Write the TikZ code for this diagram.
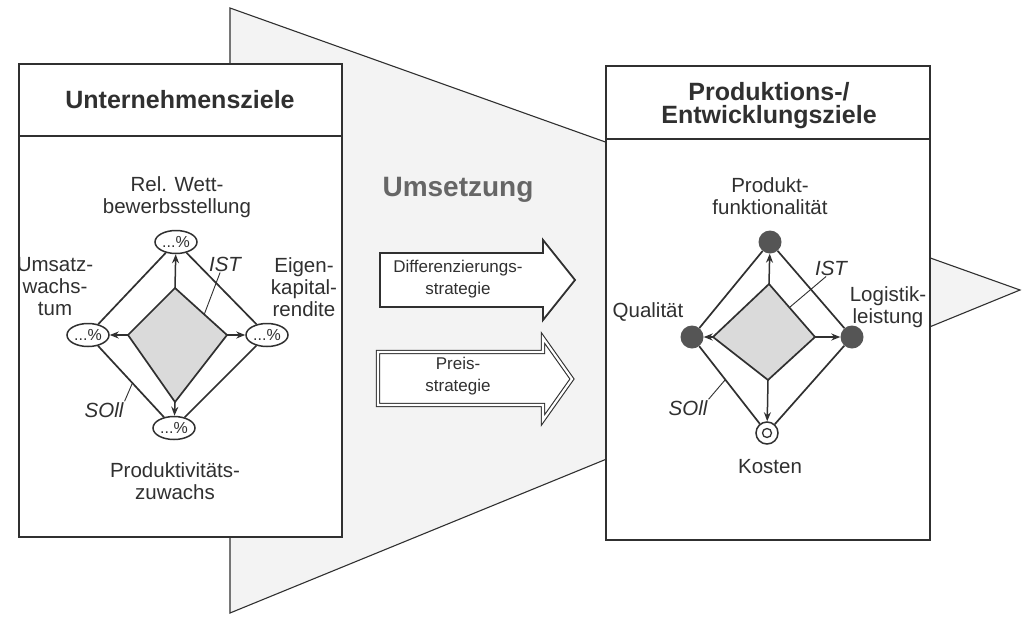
\documentclass[tikz,border=0pt]{standalone}
\usepackage{fontspec}
\setmainfont{Liberation Sans}
\usetikzlibrary{shapes.geometric,arrows.meta}
\definecolor{ink}{HTML}{303030}
\definecolor{softink}{HTML}{666666}
\definecolor{wedgefill}{HTML}{F3F3F3}
\definecolor{istfill}{HTML}{DADADA}
\definecolor{dotfill}{HTML}{555555}
\begin{document}
\begin{tikzpicture}[x=1pt,y=-1pt,
  panel/.style={draw=ink,line width=2pt,fill=white},
  rule/.style={draw=ink,line width=2pt},
  wedge/.style={draw=ink,line width=1.1pt,fill=wedgefill},
  spoke/.style={draw=ink,line width=1.7pt},
  push/.style={draw=ink,line width=1.5pt,-{Stealth[length=9pt,width=7pt]}},
  leader/.style={draw=ink,line width=0.9pt},
  pct/.style={ellipse,draw=ink,line width=1.5pt,fill=white,minimum width=42pt,minimum height=23pt,inner sep=0pt,text=ink,font=\fontsize{16}{16}\selectfont},
  dot/.style={circle,fill=dotfill,minimum size=23pt,inner sep=0pt},
  ring/.style={circle,draw=ink,line width=1.5pt,fill=white,minimum size=22pt,inner sep=0pt},
  hub/.style={circle,draw=ink,line width=1.3pt,minimum size=9pt,inner sep=0pt},
  lbl/.style={text=ink,align=center,font=\fontsize{20.5}{22}\selectfont,inner sep=0pt},
  tag/.style={text=ink,font=\fontsize{20.5}{22}\selectfont\itshape,inner sep=1pt},
  title/.style={text=ink,align=center,font=\fontsize{25}{23}\selectfont\bfseries},
  strat/.style={text=ink,align=center,font=\fontsize{17}{22}\selectfont,inner sep=0pt},
  blockarrow/.style={draw=ink,line width=1.8pt,fill=white},
  doublearrow/.style={draw=ink,line width=1.1pt,double=white,double distance=2.2pt,fill=white},
]
\useasboundingbox (0,0) rectangle (1022,616);

% large wedge pointing right, behind both panels
\draw[wedge] (230,8) -- (1020,290) -- (230,613) -- cycle;

% left panel
\draw[panel] (19,64) rectangle (342,537);
\draw[rule] (19,136) -- (342,136);
\node[title] (ltitle) at (180,100) {Unternehmensziele};

% right panel
\draw[panel] (606,66) rectangle (930,540);
\draw[rule] (606,139) -- (930,139);
\node[title] (rtitle) at (769,106) {Produktions-/\\Entwicklungsziele};

% middle: implementation strategies
\node[text=softink,font=\fontsize{28}{28}\selectfont\bfseries] (umsetzung) at (458,190) {Umsetzung};
\draw[blockarrow] (380,253) -- (543,253) -- (543,240) -- (575,280) -- (543,320) -- (543,307) -- (380,307) -- cycle;
\node[strat] (diff) at (458,279) {Differenzierungs-\\strategie};
\draw[doublearrow] (378,352) -- (543,352) -- (543,338) -- (572,379) -- (543,420) -- (543,405) -- (378,405) -- cycle;
\node[strat] (preis) at (458,376) {Preis-\\strategie};

% ---- left target diamond ----
\node[pct] (lt) at (176,242) {...\%};
\node[pct] (ll) at (88,335) {...\%};
\node[pct] (lr) at (267,335) {...\%};
\node[pct] (lb) at (174,428) {...\%};
\draw[spoke] (lt) -- (ll);
\draw[spoke] (lt) -- (lr);
\draw[spoke] (ll) -- (lb);
\draw[spoke] (lr) -- (lb);
\coordinate (ilt) at (175,288);
\coordinate (ill) at (128,335);
\coordinate (ilr) at (227,335);
\coordinate (ilb) at (175,402);
\draw[spoke,fill=istfill] (ilt) -- (ilr) -- (ilb) -- (ill) -- cycle;
\draw[push] (ilt) -- (lt);
\draw[push] (ill) -- (ll);
\draw[push] (ilr) -- (lr);
\draw[push] (ilb) -- (lb);

\node[lbl] (lttext) at (177,197) {Rel. Wett-\\bewerbsstellung};
\node[lbl] (lltext) at (55,287) {Umsatz-\\wachs-\\tum};
\node[lbl] (lrtext) at (304,287) {Eigen-\\kapital-\\rendite};
\node[lbl] (lbtext) at (175,481) {Produktivitäts-\\zuwachs};

\node[tag] (listtag) at (225,264) {IST};
\coordinate (listend) at (204,315);
\draw[leader] (listtag.240) -- (listend);
\node[tag] (lsolltag) at (104,410) {SOll};
\coordinate (lsollend) at (132,384);
\draw[leader] (lsolltag.north east) -- (lsollend);

% ---- right target diamond ----
\node[dot] (rt) at (770,242) {};
\node[dot] (rl) at (692,337) {};
\node[dot] (rr) at (852,337) {};
\node[ring] (rb) at (767,433) {};
\node[hub] (rbhub) at (767,433) {};
\draw[spoke] (rt) -- (rl);
\draw[spoke] (rt) -- (rr);
\draw[spoke] (rl) -- (rb);
\draw[spoke] (rr) -- (rb);
\coordinate (irt) at (769,284);
\coordinate (irl) at (713,337);
\coordinate (irr) at (815,337);
\coordinate (irb) at (768,380);
\draw[spoke,fill=istfill] (irt) -- (irr) -- (irb) -- (irl) -- cycle;
\draw[push] (irt) -- (rt);
\draw[push] (irl) -- (rl);
\draw[push] (irr) -- (rr);
\draw[push] (irb) -- (rb);

\node[lbl] (rttext) at (770,196) {Produkt-\\funktionalität};
\node[lbl] (rltext) at (648,312) {Qualität};
\node[lbl] (rrtext) at (888,307) {Logistik-\\leistung};
\node[lbl] (rbtext) at (770,467) {Kosten};

\node[tag] (ristag) at (831,268) {IST};
\coordinate (ristend) at (790,307);
\draw[leader] (ristag.240) -- (ristend);
\node[tag] (rsolltag) at (688,408) {SOll};
\coordinate (rsollend) at (725,380);
\draw[leader] (rsolltag.north east) -- (rsollend);
\end{tikzpicture}
\end{document}
